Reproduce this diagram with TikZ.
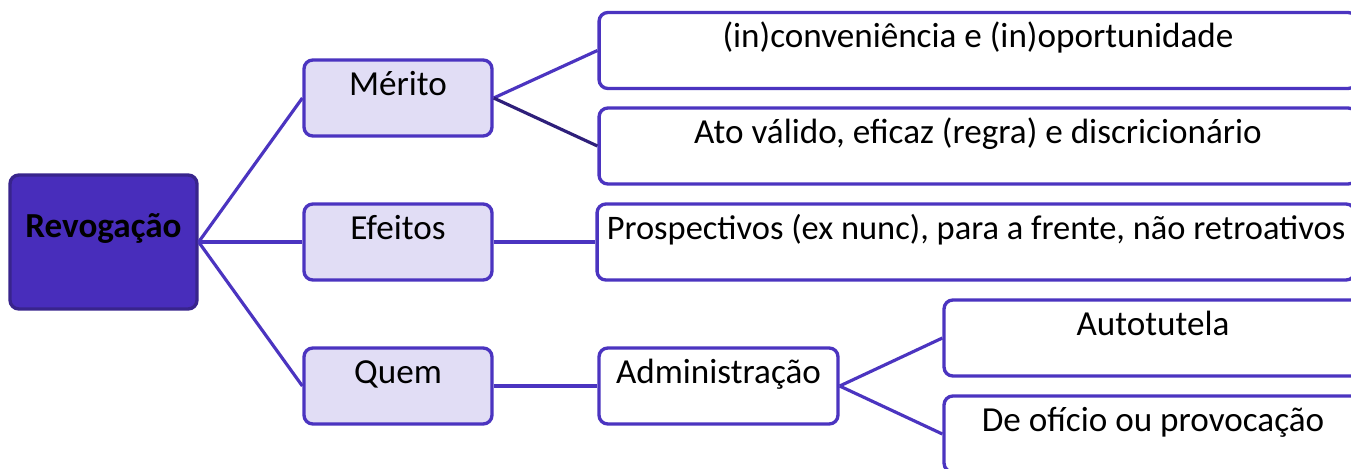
\documentclass[tikz,border=0pt]{standalone}
\usepackage{fontspec}
\setmainfont{Carlito}
\usetikzlibrary{positioning}
\definecolor{revfill}{RGB}{72,45,187}
\definecolor{revdraw}{RGB}{56,36,140}
\definecolor{linkcol}{RGB}{75,52,192}
\definecolor{linkdark}{RGB}{46,31,122}
\definecolor{topicfill}{RGB}{225,221,245}
\tikzset{
      basebox/.style={
        rounded corners=5pt,
        line width=1.9pt,
        inner xsep=0pt,
        inner ysep=0pt,
        text height=0.70cm,
        text depth=0.82cm,
        minimum height=1.52cm,
        align=center,
        font=\fontsize{20}{22}\selectfont
      },
      rootbox/.style={
        basebox,
        draw=revdraw,
        fill=revfill,
        minimum width=3.74cm,
        minimum height=2.68cm,
        text height=1.24cm,
        text depth=1.44cm,
        font=\fontsize{20}{22}\selectfont\bfseries
      },
      topicbox/.style={
        basebox,
        draw=linkcol,
        fill=topicfill,
        minimum width=3.76cm
      },
      leafbox/.style={
        basebox,
        draw=linkcol,
        fill=white
      },
      link/.style={line width=1.8pt, color=linkcol}
    }
\begin{document}
\begin{tikzpicture}[x=0.02cm,y=-0.02cm]
    \clip (0,0) rectangle (1351,468);
    \node[rootbox] (rev) at (103.5,242) {Revogação};
    \node[topicbox] (merito) at (398,98) {Mérito};
    \node[topicbox] (efeitos) at (398,242) {Efeitos};
    \node[topicbox] (quem) at (398,386) {Quem};
    \node[leafbox, minimum width=15.16cm] (conv) at (978,50.5) {(in)conveniência e (in)oportunidade};
    \node[leafbox, minimum width=15.16cm] (ato) at (978,146) {Ato válido, eficaz (regra) e discricionário};
    \node[leafbox, minimum width=15.16cm, font=\fontsize{19.6}{22}\selectfont] (prosp) at (976,242) {Prospectivos (ex nunc), para a frente, não retroativos};
    \node[leafbox, minimum width=4.78cm] (adm) at (718.5,386) {Administração};
    \node[leafbox, minimum width=8.36cm] (auto) at (1153,338) {Autotutela};
    \node[leafbox, minimum width=8.36cm] (oficio) at (1153,434) {De ofício ou provocação};
    \draw[link] (rev.east) -- (merito.west);
    \draw[link] (rev.east) -- (efeitos.west);
    \draw[link] (rev.east) -- (quem.west);
    \draw[link] (merito.east) -- (conv.west);
    \draw[link, color=linkdark] (merito.east) -- (ato.west);
    \draw[link] (efeitos.east) -- (prosp.west);
    \draw[link] (quem.east) -- (adm.west);
    \draw[link] (adm.east) -- (auto.west);
    \draw[link] (adm.east) -- (oficio.west);
    \end{tikzpicture}
\end{document}
